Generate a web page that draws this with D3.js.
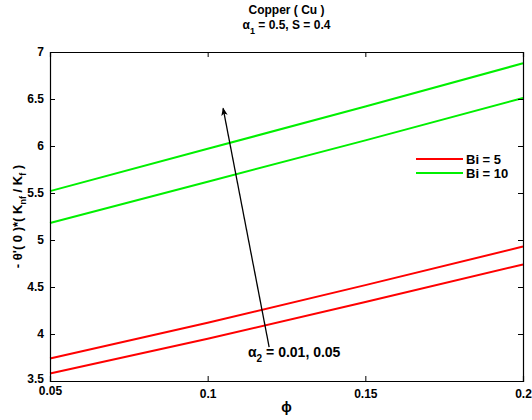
<!DOCTYPE html>
<html>
<head>
<meta charset="utf-8">
<script src="https://cdn.jsdelivr.net/npm/d3@7"></script>
<style>
  body { margin: 0; background: #fff; }
  svg text { font-family: "Liberation Sans", Arial, sans-serif; font-weight: bold; }
</style>
</head>
<body>
<svg id="chart" width="532" height="420"></svg>
<script>
// ── data ──
const phi = [0.05, 0.1, 0.15, 0.2];
const xTicks = [0.05, 0.1, 0.15, 0.2];
const yTicks = [3.5, 4, 4.5, 5, 5.5, 6, 6.5, 7];

const bi5Low  = [3.58, 3.95, 4.34, 4.74];
const bi5High = [3.74, 4.12, 4.52, 4.93];
const bi10Low  = [5.18, 5.62, 6.06, 6.51];
const bi10High = [5.52, 5.97, 6.42, 6.88];

const series = [
  { name: "Bi = 5",  color: "#ff0000", values: bi5Low },
  { name: "Bi = 5",  color: "#ff0000", values: bi5High },
  { name: "Bi = 10", color: "#00f000", values: bi10Low },
  { name: "Bi = 10", color: "#00f000", values: bi10High }
];

const svg = d3.select("#chart");
const margin = { top: 52, right: 9, bottom: 39, left: 50 };
const W = 532, H = 420;
const width = W - margin.left - margin.right;
const height = H - margin.top - margin.bottom;

const x = d3.scaleLinear().domain([0.05, 0.2]).range([0, width]);
const y = d3.scaleLinear().domain([3.5, 7]).range([height, 0]);

const g = svg.append("g").attr("transform", `translate(${margin.left},${margin.top})`);

// lines
const line = d3.line().x((d, i) => x(phi[i])).y(d => y(d));
series.forEach(s => {
  g.append("path").datum(s.values)
    .attr("fill", "none").attr("stroke", s.color).attr("stroke-width", 2)
    .attr("d", line);
});

// axes, MATLAB style: inward ticks on all four sides
const fmt = d => String(d);
const axB = g.append("g").attr("transform", `translate(0,${height})`)
  .call(d3.axisBottom(x).tickValues(xTicks).tickSize(-5).tickPadding(8).tickFormat(fmt));
const axT = g.append("g")
  .call(d3.axisTop(x).tickValues(xTicks).tickSize(-5).tickFormat(""));
const axL = g.append("g")
  .call(d3.axisLeft(y).tickValues(yTicks).tickSize(-5).tickPadding(6).tickFormat(fmt));
const axR = g.append("g").attr("transform", `translate(${width},0)`)
  .call(d3.axisRight(y).tickValues(yTicks).tickSize(-5).tickFormat(""));
[axB, axT, axL, axR].forEach(a => {
  a.selectAll(".domain").attr("stroke", "#000").attr("stroke-width", 1.2);
  a.selectAll("line").attr("stroke", "#000");
  a.selectAll("text").attr("fill", "#000").attr("font-size", "12px")
    .style("font-family", "'Liberation Sans', Arial, sans-serif").style("font-weight", "bold");
});
// MATLAB draws the corner tick labels nudged so they collide
axL.selectAll(".tick text").filter(d => d === 3.5).attr("dy", "0.1em");
axB.selectAll(".tick text").filter(d => d === 0.05).attr("dy", "0.5em");

// title
svg.append("text").attr("x", margin.left + width / 2).attr("y", 14)
  .attr("text-anchor", "middle").attr("font-size", "12px").text("Copper ( Cu )");
const t2 = svg.append("text").attr("x", margin.left + width / 2).attr("y", 29)
  .attr("text-anchor", "middle").attr("font-size", "12px");
t2.append("tspan").text("\u03b1");
t2.append("tspan").attr("dy", 5).attr("font-size", "9px").text("1");
t2.append("tspan").attr("dy", -5).text(" = 0.5, S = 0.4");

// axis labels
svg.append("text").attr("x", margin.left + width / 2).attr("y", 412)
  .attr("text-anchor", "middle").attr("font-size", "14px").text("\u03d5");

const yl = svg.append("text")
  .attr("transform", `translate(22,${margin.top + height / 2}) rotate(-90)`)
  .attr("text-anchor", "middle").attr("font-size", "13px");
yl.append("tspan").text("- \u03b8'( 0 )*( K");
yl.append("tspan").attr("dy", 4).attr("font-size", "9px").text("nf");
yl.append("tspan").attr("dy", -4).text(" / K");
yl.append("tspan").attr("dy", 4).attr("font-size", "9px").text("f");
yl.append("tspan").attr("dy", -4).text(" )");

// legend
const legendItems = [
  { name: "Bi = 5", color: "#ff0000" },
  { name: "Bi = 10", color: "#00f000" }
];
legendItems.forEach((d, i) => {
  const ly = 159 + i * 14;
  svg.append("line").attr("x1", 416).attr("x2", 463).attr("y1", ly).attr("y2", ly)
    .attr("stroke", d.color).attr("stroke-width", 2);
  svg.append("text").attr("x", 466).attr("y", ly + 5).attr("font-size", "13px").text(d.name);
});

// annotation arrow
const defs = svg.append("defs");
defs.append("marker").attr("id", "head").attr("viewBox", "0 0 10 10")
  .attr("refX", 9).attr("refY", 5).attr("markerWidth", 14).attr("markerHeight", 8)
  .attr("markerUnits", "userSpaceOnUse").attr("orient", "auto")
  .append("path").attr("d", "M0,1 L10,5 L0,9 L2.5,5 Z").attr("fill", "#000");
svg.append("line")
  .attr("x1", margin.left + x(0.1195)).attr("y1", margin.top + y(3.86))
  .attr("x2", margin.left + x(0.1049)).attr("y2", margin.top + y(6.40))
  .attr("stroke", "#000").attr("stroke-width", 1.3)
  .attr("marker-end", "url(#head)");

const al = svg.append("text").attr("x", 248).attr("y", 357).attr("font-size", "14px");
al.append("tspan").text("\u03b1");
al.append("tspan").attr("dy", 5).attr("font-size", "10px").text("2");
al.append("tspan").attr("dy", -5).text(" = 0.01, 0.05");
</script>
</body>
</html>
